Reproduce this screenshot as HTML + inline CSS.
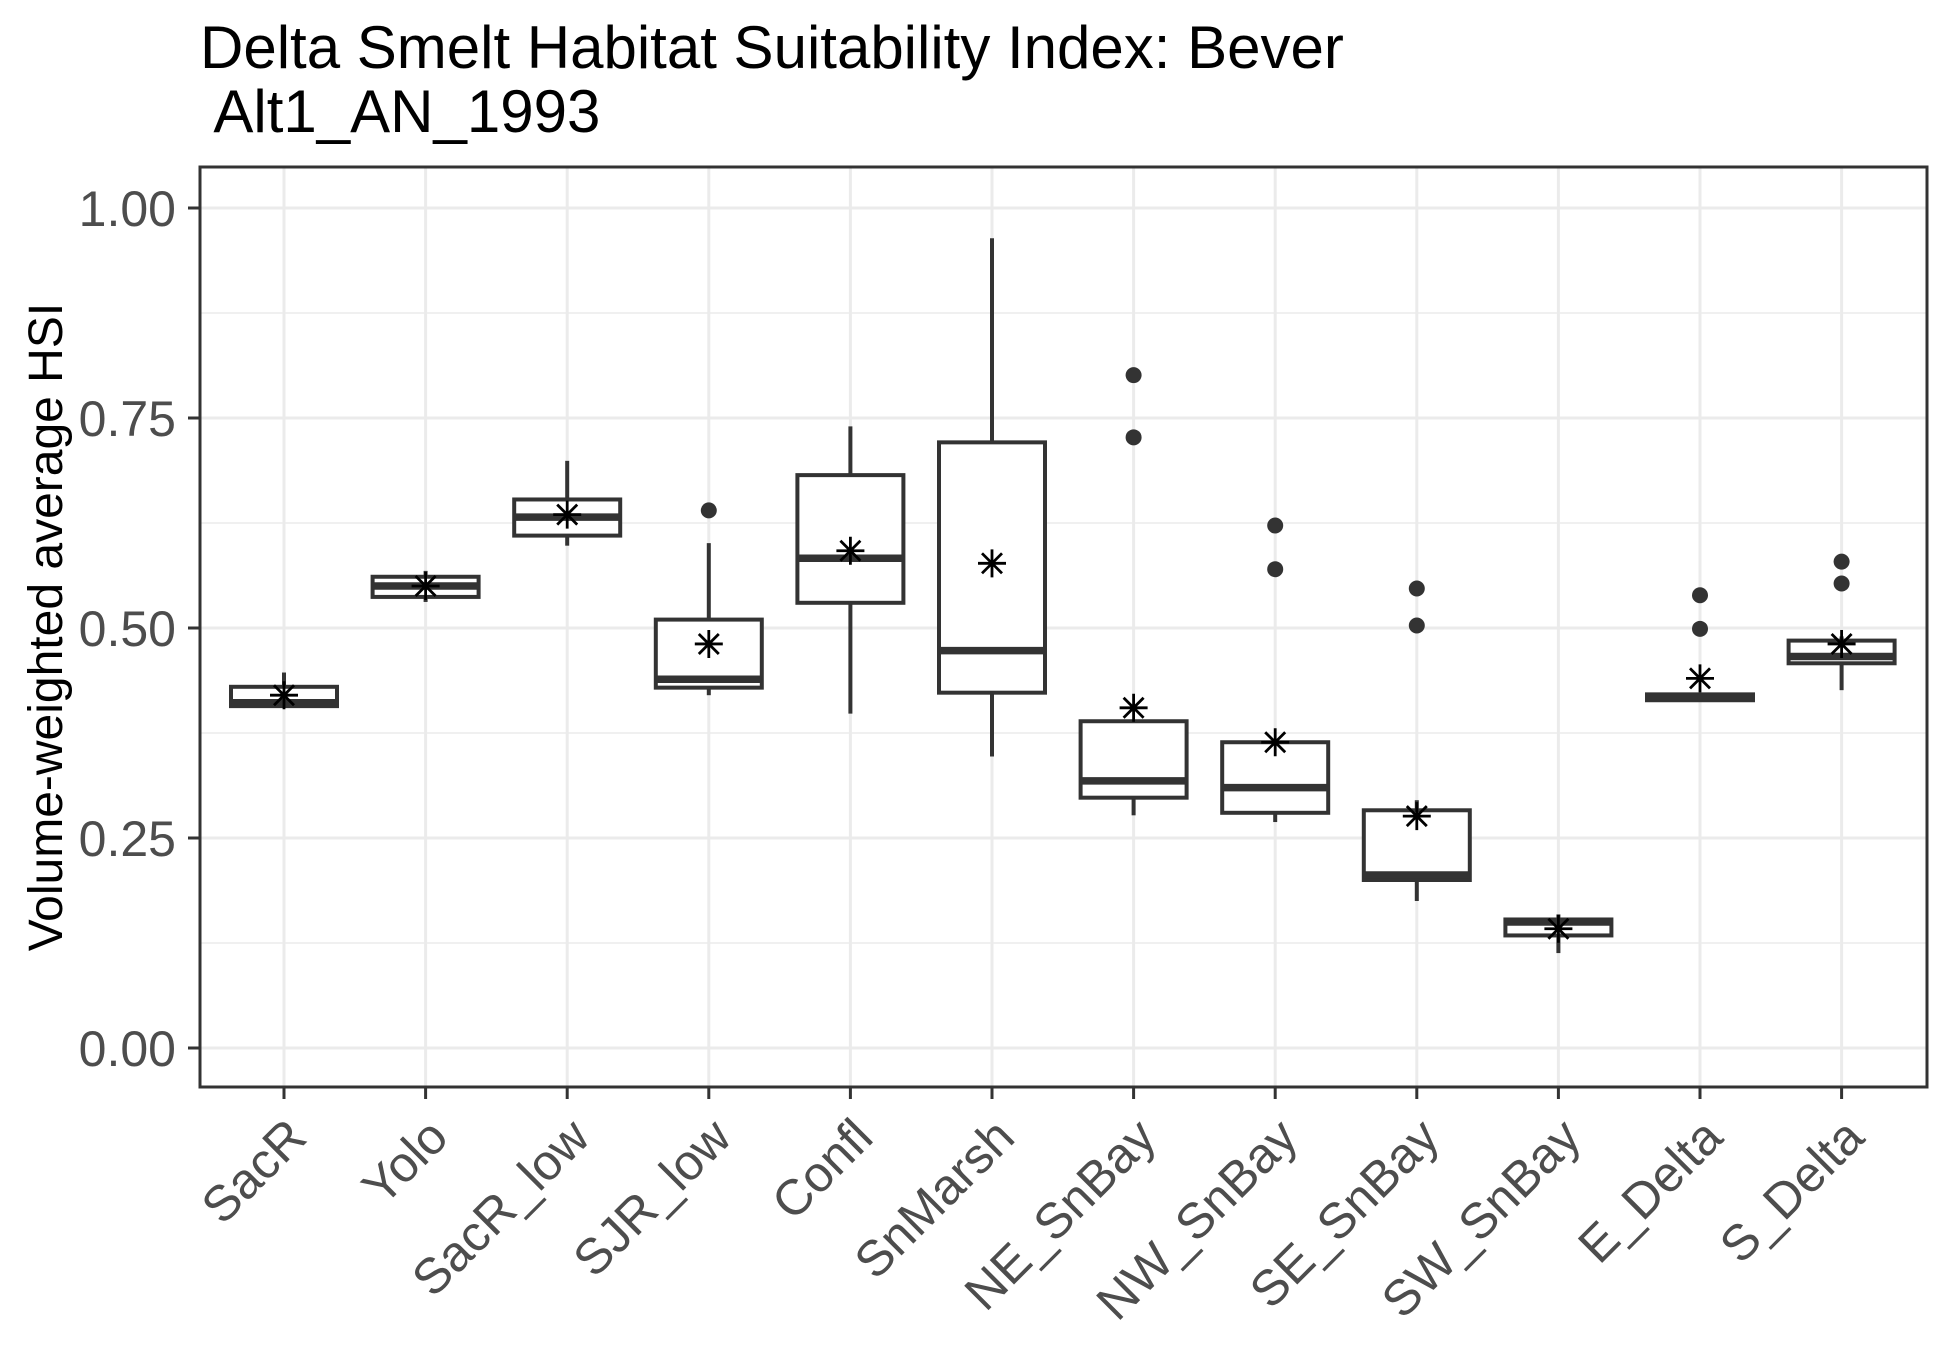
<!DOCTYPE html>
<html><head><meta charset="utf-8"><style>body{margin:0;background:#fff}svg{display:block}text{font-family:"Liberation Sans",Arial,sans-serif}</style></head>
<body>
<svg id="chart" width="1950" height="1350" viewBox="0 0 1950 1350" xmlns="http://www.w3.org/2000/svg">
<rect width="1950" height="1350" fill="#fff"/>
<text x="200" y="68" font-size="60" fill="#000">Delta Smelt Habitat Suitability Index: Bever</text>
<text x="200" y="132" font-size="60" fill="#000" xml:space="preserve"> Alt1_AN_1993</text>
<g id="grid"></g>
<g id="marks"></g>
<rect x="200" y="167" width="1727" height="920" fill="none" stroke="#333" stroke-width="3"/>
<g id="axes"></g>
<text transform="translate(62,627) rotate(-90)" text-anchor="middle" font-size="48" fill="#000">Volume-weighted average HSI</text>
</svg>
<script>
const categories=["SacR","Yolo","SacR_low","SJR_low","Confl","SnMarsh","NE_SnBay","NW_SnBay","SE_SnBay","SW_SnBay","E_Delta","S_Delta"];
const whiskerLow=[0.405,0.531,0.598,0.42,0.398,0.347,0.277,0.269,0.175,0.113,0.414,0.426];
const q1=[0.407,0.537,0.61,0.429,0.53,0.423,0.298,0.28,0.2,0.134,0.414,0.458];
const median=[0.411,0.55,0.632,0.439,0.583,0.473,0.318,0.31,0.206,0.15,0.418,0.466];
const q3=[0.43,0.561,0.653,0.51,0.682,0.721,0.389,0.364,0.283,0.153,0.421,0.485];
const whiskerHigh=[0.447,0.568,0.699,0.601,0.74,0.964,0.389,0.364,0.295,0.159,0.421,0.49];
const means=[0.42,0.55,0.635,0.481,0.592,0.577,0.405,0.364,0.276,0.142,0.44,0.481];
const outliers=[[],[],[],[0.64],[],[],[0.801,0.727],[0.622,0.57],[0.547,0.503],[],[0.539,0.499],[0.579,0.553]];
const yTicks=[0,0.25,0.5,0.75,1.0];
const yTickLabels=["0.00","0.25","0.50","0.75","1.00"];
const yMinor=[0.125,0.375,0.625,0.875];

const NS="http://www.w3.org/2000/svg";
const X0=200,X1=1927,Y0=167,Y1=1087;
const xs=i=>284+141.6*i;
const ys=v=>1048-840*v;
function mk(tag,attrs,parent){const e=document.createElementNS(NS,tag);for(const k in attrs)e.setAttribute(k,attrs[k]);parent.appendChild(e);return e;}
const grid=document.getElementById('grid'),marks=document.getElementById('marks'),axes=document.getElementById('axes');
yMinor.forEach(v=>{const l=mk('line',{x1:X0,x2:X1,y1:ys(v),y2:ys(v),stroke:'#ebebeb','stroke-width':1.5},grid);

});
yTicks.forEach((v,i)=>{const l=mk('line',{x1:X0,x2:X1,y1:ys(v),y2:ys(v),stroke:'#ebebeb','stroke-width':3},grid);


const t=mk('line',{x1:188,x2:X0,y1:ys(v),y2:ys(v),stroke:'#333','stroke-width':3},axes);


const tx=mk('text',{x:176,y:ys(v)+18,'text-anchor':'end','font-size':50,fill:'#4d4d4d'},axes);tx.textContent=yTickLabels[i];

});
categories.forEach((c,i)=>{const x=xs(i);
const g=mk('line',{x1:x,x2:x,y1:Y0,y2:Y1,stroke:'#ebebeb','stroke-width':3},grid);


const t=mk('line',{x1:x,x2:x,y1:Y1,y2:Y1+12,stroke:'#333','stroke-width':3},axes);


const tx=mk('text',{x:0,y:0,'text-anchor':'end','font-size':50,fill:'#4d4d4d',transform:`translate(${x+25},1140) rotate(-45)`},axes);tx.textContent=c;


const bg=mk('g',{},marks);


mk('line',{x1:x,x2:x,y1:ys(whiskerHigh[i]),y2:ys(q3[i]),stroke:'#333','stroke-width':4},bg);
mk('line',{x1:x,x2:x,y1:ys(q1[i]),y2:ys(whiskerLow[i]),stroke:'#333','stroke-width':4},bg);
mk('rect',{x:x-53,y:ys(q3[i]),width:106,height:Math.max(ys(q1[i])-ys(q3[i]),1),fill:'#fff',stroke:'#333','stroke-width':4},bg);
mk('line',{x1:x-53,x2:x+53,y1:ys(median[i]),y2:ys(median[i]),stroke:'#333','stroke-width':7.5},bg);
outliers[i].forEach(v=>{const d=mk('circle',{cx:x,cy:ys(v),r:8,fill:'#333'},bg);

});
const my=ys(means[i]),s=14,sd=10;
const m=mk('path',{d:`M${x} ${my-s}V${my+s}M${x-s} ${my}H${x+s}M${x-sd} ${my-sd}L${x+sd} ${my+sd}M${x-sd} ${my+sd}L${x+sd} ${my-sd}`,stroke:'#000','stroke-width':2.8,fill:'none'},bg);


});
</script>
</body></html>
